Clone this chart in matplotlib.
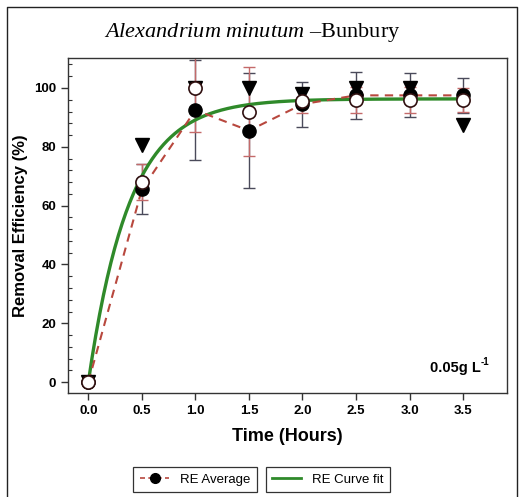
import numpy as np
import matplotlib
matplotlib.use("Agg")
import matplotlib.pyplot as plt
from matplotlib.lines import Line2D
from matplotlib.ticker import MultipleLocator

plt.rcParams['font.family'] = ['Liberation Sans', 'DejaVu Sans']
plt.rcParams['mathtext.fontset'] = 'custom'
plt.rcParams['mathtext.rm'] = 'Liberation Serif'
plt.rcParams['mathtext.it'] = 'Liberation Serif:italic'
plt.rcParams['mathtext.bf'] = 'Liberation Sans:bold'

# ---- data ----
time_h = [0.0, 0.5, 1.0, 1.5, 2.0, 2.5, 3.0, 3.5]
re_average = [0, 65.5, 92.5, 85.5, 94.5, 97.5, 97.5, 97.5]
re_average_err = [0, 8.5, 17, 19.5, 7.7, 8, 7.5, 6]
re_rep_open = [0, 68, 100, 92, 95.5, 96, 96, 96]
re_rep_open_err = [0, 6, 15, 15, 4, 4.5, 4.5, 4]
re_rep_tri = [0, 80.5, 100, 100, 98, 100, 100, 87.5]
fit_amplitude = 96.3
fit_rate = 2.6
xtick_vals = [0.0, 0.5, 1.0, 1.5, 2.0, 2.5, 3.0, 3.5]
ytick_vals = [0, 20, 40, 60, 80, 100]

W, H = 520, 497
fig = plt.figure(figsize=(W/100, H/100), dpi=100)
ax = fig.add_axes([68/W, 1-393/H, (507-68)/W, (393-58)/H])

red = '#b8483e'
green = '#2f8a2a'
gray = '#4a4a5a'

# curve fit
tt = np.linspace(0, 3.5, 300)
ax.plot(tt, fit_amplitude*(1-np.exp(-fit_rate*tt)), color=green, lw=2.4, zorder=3)

# error bars
ax.errorbar(time_h, re_average, yerr=re_average_err, fmt='none', ecolor=gray,
            elinewidth=1.0, capsize=4.5, capthick=1.0, zorder=2)
ax.errorbar(time_h, re_rep_open, yerr=re_rep_open_err, fmt='none', ecolor='#c46a6a',
            elinewidth=1.0, capsize=4.5, capthick=1.0, zorder=2)

# average dashed line
ax.plot(time_h, re_average, color=red, ls=(0, (4, 3)), lw=1.5, zorder=4)

# markers
ax.plot(time_h, re_rep_tri, ls='none', marker='v', ms=9.5, color='black', zorder=5)
ax.plot(time_h, re_average, ls='none', marker='o', ms=9.5, color='black', zorder=6)
ax.plot(time_h, re_rep_open, ls='none', marker='o', ms=9.5, mfc='white',
        mec='#301010', mew=1.2, zorder=7)

ax.set_xlim(-0.19, 3.91)
ax.set_ylim(-3.7, 110.2)
ax.set_xticks(xtick_vals)
ax.set_xticklabels([f'{v:.1f}' for v in xtick_vals])
ax.set_yticks(ytick_vals)
ax.yaxis.set_minor_locator(MultipleLocator(4))
ax.tick_params(axis='both', which='major', direction='out', length=5, width=1,
               labelsize=9.5, color='#333333')
ax.tick_params(axis='y', which='minor', direction='in', length=3, width=0.8, color='#333333')
for lab in ax.get_xticklabels() + ax.get_yticklabels():
    lab.set_fontweight('bold')
for s in ax.spines.values():
    s.set_color('#333333')
    s.set_linewidth(1.0)

ax.set_xlabel('Time (Hours)', fontsize=13, fontweight='bold', labelpad=8)
ax.set_ylabel('Removal Efficiency (%)', fontsize=12, fontweight='bold')
ax.yaxis.set_label_coords((28-68)/(507-68), 0.5)

ax.text(0.94, 0.075, '0.05g L', transform=ax.transAxes,
        ha='right', va='center', fontsize=10.5, fontweight='bold')
ax.text(0.941, 0.093, '-1', transform=ax.transAxes,
        ha='left', va='center', fontsize=7, fontweight='bold')

fig.text(252/W, 1-33/H, r'$\mathit{Alexandrium\ minutum}$ $\mathrm{–Bunbury}$',
         ha='center', va='center', fontsize=16)

# legends
h1 = Line2D([], [], color=red, ls=(0, (3, 2)), lw=1.2, marker='o', ms=7,
            mfc='black', mec='black')
h2 = Line2D([], [], color=green, lw=2.0)
for h, lab, cx in [(h1, 'RE Average', 195), (h2, 'RE Curve fit', 328)]:
    lg = fig.legend([h], [lab], loc='center', bbox_to_anchor=(cx/W, 1-479.5/H),
                    frameon=True, fancybox=False, edgecolor='black', fontsize=9.5,
                    handlelength=2.2, borderpad=0.5, borderaxespad=0)
    lg.get_frame().set_linewidth(0.9)

# figure border
fig.add_artist(Line2D([7/W, 7/W, 517/W, 517/W], [-0.01, 1-7/H, 1-7/H, -0.01],
                      transform=fig.transFigure, color='#222222', lw=1.0))

fig.savefig('out.png', dpi=100)
